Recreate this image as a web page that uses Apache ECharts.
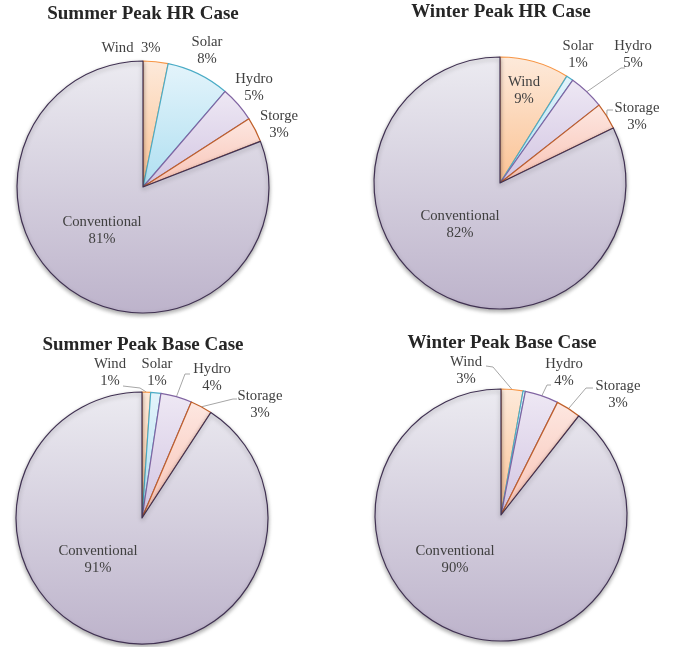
<!DOCTYPE html>
<html><head><meta charset="utf-8">
<script src="https://cdn.jsdelivr.net/npm/echarts@6/dist/echarts.min.js"></script>
<style>html,body{margin:0;padding:0;background:#fff}#c{width:673px;height:647px}</style>
</head><body><div id="c"></div>
<script>
const titles = ['Summer Peak HR Case', 'Winter Peak HR Case', 'Summer Peak Base Case', 'Winter Peak Base Case'];
const catsSummerHR = ['Wind', 'Solar', 'Hydro', 'Storge', 'Conventional'];
const catsOther = ['Wind', 'Solar', 'Hydro', 'Storage', 'Conventional'];
const valsSummerHR = [3.2, 8.1, 4.6, 3.2, 80.9];
const valsWinterHR = [8.9, 0.9, 4.6, 3.4, 82.2];
const valsSummerBase = [1.1, 1.3, 4.0, 2.8, 90.8];
const valsWinterBase = [2.8, 0.3, 4.3, 3.2, 89.4];

// styling / layout
const fills = [
  ['#fdeadb', '#fbc293'],
  ['#e4f4fb', '#afdff1'],
  ['#eee8f4', '#d2c5e2'],
  ['#fde7e1', '#f8c2b4'],
  ['#ecebf1', '#bdb3cb']
];
const borders = ['#f79646', '#4bacc6', '#8064a2', '#c0602a', '#403152'];
const R = 126;
// off: label centre offset from pie centre; guide: [kneeDx, kneeDy, endDx, endDy] relative to pie centre
const charts = [
  { title: titles[0], tx: 143, ty: 5, names: catsSummerHR, vals: valsSummerHR, c: [143, 187],
    off: [[-12, -139], [64, -136], [111, -99], [136, -62], [-41, 44]],
    guide: [null, null, null, null, null], show: [true, true, true, true, true], oneLine: [true, false, false, false, false] },
  { title: titles[1], tx: 501, ty: 3, names: catsOther, vals: valsWinterHR, c: [500, 183],
    off: [[24, -92], [78, -128], [133, -128], [137, -66], [-40, 42]],
    guide: [null, null, [121, -115, 125, -115], [107, -73, 113, -73], null], show: [true, true, true, true, true], oneLine: [false, false, false, false, false] },
  { title: titles[2], tx: 143, ty: 336, names: catsOther, vals: valsSummerBase, c: [142, 518],
    off: [[-32, -145], [15, -145], [70, -140], [118, -113], [-44, 42]],
    guide: [[-2, -130, -19, -132], null, [43, -144, 48, -144], [91, -119, 95, -119], null], show: [true, true, true, true, true], oneLine: [false, false, false, false, false] },
  { title: titles[3], tx: 502, ty: 334, names: catsOther, vals: valsWinterBase, c: [501, 515],
    off: [[-35, -144], [0, 0], [63, -142], [117, -120], [-46, 45]],
    guide: [[-8, -148, -15, -149], null, [46, -130, 50, -130], [85, -127, 92, -127], null], show: [true, false, true, true, true], oneLine: [false, false, false, false, false] }
];

function arcPoint(ch, idx) {
  const total = ch.vals.reduce((a, b) => a + b, 0);
  let before = 0;
  for (let k = 0; k < idx; k++) before += ch.vals[k];
  const th = ((before + ch.vals[idx] / 2) / total) * 2 * Math.PI;
  return [ch.c[0] + R * Math.sin(th), ch.c[1] - R * Math.cos(th)];
}

const font = 'Liberation Serif, Times New Roman, serif';
const option = {
  animation: false,
  title: charts.map(ch => ({
    text: ch.title, left: ch.tx, top: ch.ty, textAlign: 'center', padding: 0,
    textStyle: { fontFamily: font, fontWeight: 'bold', fontSize: 19, color: '#262626' }
  })),
  series: charts.map((ch) => ({
    type: 'pie',
    center: ch.c,
    radius: R,
    startAngle: 90,
    clockwise: true,
    percentPrecision: 0,
    avoidLabelOverlap: false,
    label: {
      position: 'outside', fontFamily: font, fontSize: 14.7, color: '#404040', lineHeight: 17,
      formatter: '{b}\n{d}%'
    },
    labelLine: { show: false, lineStyle: { color: '#a6a6a6', width: 1 } },
    labelLayout: function (p) {
      const o = ch.off[p.dataIndex];
      const g = ch.guide[p.dataIndex];
      const res = { x: ch.c[0] + o[0], y: ch.c[1] + o[1], align: 'center', verticalAlign: 'middle' };
      if (g) {
        res.labelLinePoints = [arcPoint(ch, p.dataIndex),
          [ch.c[0] + g[0], ch.c[1] + g[1]], [ch.c[0] + g[2], ch.c[1] + g[3]]];
      }
      return res;
    },
    emphasis: { disabled: true },
    data: ch.vals.map((v, i) => ({
      name: ch.names[i],
      value: v,
      label: {
        show: ch.show[i],
        position: i === 4 ? 'inside' : 'outside',
        formatter: ch.oneLine[i] ? '{b}  {d}%' : '{b}\n{d}%'
      },
      labelLine: { show: !!ch.guide[i] },
      itemStyle: {
        color: { type: 'linear', x: 0, y: 0, x2: 0, y2: 1,
          colorStops: [{ offset: 0, color: fills[i][0] }, { offset: 1, color: fills[i][1] }] },
        borderColor: borders[i], borderWidth: 1.2,
        shadowColor: i === 4 ? 'rgba(0,0,0,0.35)' : 'rgba(0,0,0,0)',
        shadowBlur: i === 4 ? 4 : 0, shadowOffsetY: i === 4 ? 2 : 0
      }
    }))
  }))
};
const chart = echarts.init(document.getElementById('c'), null, { renderer: 'canvas' });
chart.setOption(option);
</script>
</body></html>
